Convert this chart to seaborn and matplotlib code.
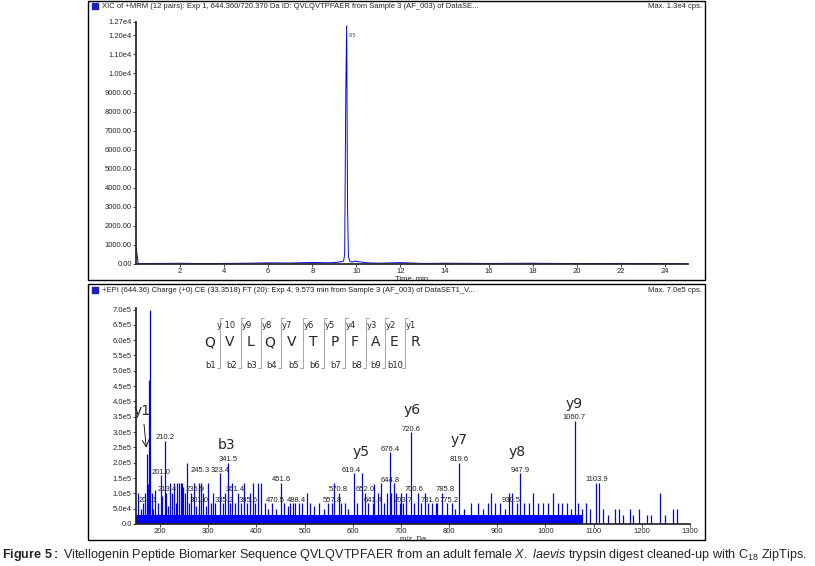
import numpy as np
import pandas as pd
import matplotlib
matplotlib.use("Agg")
import matplotlib.pyplot as plt
import seaborn as sns
from matplotlib.patches import Rectangle

# ---------------- data ----------------
# XIC chromatogram (time in min, intensity in cps)
xic_time = [0.0, 0.05, 0.1, 1.0, 2.0, 3.0, 4.0, 5.0, 6.0, 7.0, 8.0, 8.8, 9.2, 9.42, 9.47, 9.52, 9.56,
            9.6, 9.64, 9.7, 9.8, 9.9, 10.5, 11.0, 12.0, 13.0, 14.0, 16.0, 18.0, 20.0, 22.0, 24.0, 25.0]
xic_int = [900, 500, 20, 30, 40, 20, 30, 40, 60, 50, 80, 60, 100, 150, 500, 9000, 12500, 3000,
           400, 150, 100, 150, 60, 40, 70, 30, 40, 30, 40, 20, 30, 20, 10]

# EPI spectrum peaks (m/z, intensity)
mz = [155, 160, 165, 168, 172, 175, 178, 180, 183, 186, 190, 195, 201.0, 205, 210.2, 213, 216, 220, 225,
      228, 232, 236, 240, 243, 245.3, 248, 252, 256, 260, 265, 270, 274, 280, 285, 290, 295, 300, 305,
      310, 315, 323.4, 330, 335, 341.5, 346, 350, 355, 361.4, 368, 375, 380, 386, 392, 398, 404, 410,
      418, 425, 432, 440, 451.6, 458, 465, 470.5, 476, 481, 488, 495, 505, 512, 520, 530, 540, 548,
      557.8, 562, 570.8, 576, 584, 590, 602, 608, 619.4, 625, 632, 641.4, 644.8, 652, 658, 665, 670,
      676.4, 680, 686, 690, 697, 700.6, 703.7, 710, 720.6, 727, 735, 742, 750, 757, 765, 772, 775.2,
      785.8, 795, 805, 812, 819.6, 830, 845, 860, 870, 880, 887, 895, 905, 915, 925, 930.5, 940, 947.9,
      955, 965, 975, 985, 995, 1005, 1015, 1025, 1035, 1045, 1052, 1060.7, 1068, 1075, 1085, 1092,
      1103.9, 1111, 1120, 1130, 1145, 1152, 1160, 1175, 1182, 1195, 1210, 1220, 1238, 1248, 1265, 1272]
intensity = [1.0e5, 5e4, 7e4, 1.0e5, 2.3e5, 1.3e5, 4.7e5, 7.0e5, 1.0e5, 5e4, 1.1e5, 7e4, 1.6e5, 9e4,
             2.7e5, 1.0e5, 6e4, 1.35e5, 1.0e5, 1.35e5, 7e4, 1.35e5, 1.35e5, 1.35e5, 1.35e5, 1.2e5, 1.0e5,
             2.0e5, 7e4, 1.0e5, 1.35e5, 6e4, 1.35e5, 1.35e5, 1.0e5, 6e4, 1.35e5, 7e4, 1.0e5, 7e4, 1.65e5,
             7e4, 1.0e5, 2.0e5, 7e4, 1.35e5, 7e4, 1.0e5, 7e4, 1.35e5, 7e4, 1.0e5, 1.35e5, 7e4, 1.35e5,
             1.35e5, 7e4, 5e4, 7e4, 5e4, 1.35e5, 7e4, 6e4, 7e4, 7e4, 7e4, 7e4, 7e4, 1.0e5, 7e4, 6e4, 7e4,
             5e4, 7e4, 7e4, 1.35e5, 1.0e5, 7e4, 7e4, 5e4, 1.65e5, 7e4, 1.65e5, 1.0e5, 7e4, 7e4, 1.3e5,
             1.0e5, 1.35e5, 7e4, 1.0e5, 2.35e5, 1.0e5, 1.35e5, 1.0e5, 7e4, 1.0e5, 7e4, 1.0e5, 3.0e5, 7e4,
             1.0e5, 7e4, 1.0e5, 7e4, 7e4, 7e4, 7e4, 1.0e5, 7e4, 7e4, 5e4, 2.0e5, 5e4, 7e4, 7e4, 5e4, 7e4,
             1.0e5, 7e4, 7e4, 5e4, 1.0e5, 1.0e5, 7e4, 1.65e5, 7e4, 7e4, 1.0e5, 7e4, 7e4, 7e4, 1.0e5, 7e4,
             7e4, 7e4, 5e4, 3.35e5, 7e4, 5e4, 7e4, 5e4, 1.35e5, 1.35e5, 5e4, 3e4, 5e4, 5e4, 3e4, 5e4, 3e4,
             5e4, 3e4, 3e4, 1.0e5, 3e4, 5e4, 5e4]
floor_mz = [150, 1075]
floor_level = 3e4

# peak labels: (x, y, text)
peak_labels = [
    (201, 1.58e5, "201.0"), (210, 2.7e5, "210.2"), (284, 1.62e5, "245.3"), (325, 1.62e5, "323.4"),
    (341, 1.98e5, "341.5"), (356, 1.0e5, "361.4"), (451, 1.35e5, "451.6"), (570, 1.0e5, "570.8"),
    (597, 1.62e5, "619.4"), (625, 1.0e5, "652.0"), (677, 1.3e5, "644.8"), (677, 2.33e5, "676.4"),
    (721, 2.98e5, "720.6"), (728, 1.0e5, "700.6"), (791, 1.0e5, "785.8"), (820, 1.98e5, "819.6"),
    (947, 1.62e5, "947.9"), (1059, 3.35e5, "1060.7"), (1107, 1.35e5, "1103.9"),
    (214, 1.0e5, "213.4"), (273, 1.0e5, "235.9"), (176, 6.6e4, "204.1"), (281, 6.6e4, "301.0"),
    (333, 6.6e4, "335.2"), (382, 6.6e4, "395.6"), (439, 6.6e4, "470.5"), (483, 6.6e4, "488.4"),
    (557, 6.6e4, "557.8"), (642, 6.6e4, "641.4"), (704, 6.6e4, "703.7"), (760, 6.6e4, "731.6"),
    (800, 6.6e4, "775.2"), (929, 6.6e4, "930.5")]
ion_labels = [(163, 3.45e5, "y1"), (337, 2.35e5, "b3"), (617, 2.13e5, "y5"), (724, 3.48e5, "y6"),
              (820, 2.5e5, "y7"), (941, 2.13e5, "y8"), (1059, 3.7e5, "y9")]

sequence = list("QVLQVTPFAER")
y_ions = ["y 10", "y9", "y8", "y7", "y6", "y5", "y4", "y3", "y2", "y1"]
b_ions = ["b1", "b2", "b3", "b4", "b5", "b6", "b7", "b8", "b9", "b10"]

top_yticks = [0, 1000, 2000, 3000, 4000, 5000, 6000, 7000, 8000, 9000, 10000, 11000, 12000, 12700]
top_ylabels = ["0.00", "1000.00", "2000.00", "3000.00", "4000.00", "5000.00", "6000.00", "7000.00",
               "8000.00", "9000.00", "1.00e4", "1.10e4", "1.20e4", "1.27e4"]
bot_yticks = [0, 5e4, 1e5, 1.5e5, 2e5, 2.5e5, 3e5, 3.5e5, 4e5, 4.5e5, 5e5, 5.5e5, 6e5, 6.5e5, 7e5]
bot_ylabels = ["0.0", "5.0e4", "1.0e5", "1.5e5", "2.0e5", "2.5e5", "3.0e5", "3.5e5", "4.0e5",
               "4.5e5", "5.0e5", "5.5e5", "6.0e5", "6.5e5", "7.0e5"]

# ---------------- figure ----------------
sns.set_theme(style="ticks", rc={"font.family": "Liberation Sans",
                                 "mathtext.fontset": "custom",
                                 "mathtext.rm": "Liberation Sans",
                                 "mathtext.it": "Liberation Sans:italic",
                                 "mathtext.bf": "Liberation Sans:bold"})
W, H = 815, 566
fig = plt.figure(figsize=(W / 100, H / 100), dpi=100)
BLUE = "#0000ff"

def fx(px):
    return px / W

def fy(py):
    return 1 - py / H

# panel frames
for top, bot in [(1, 280), (284, 540)]:
    fig.patches.append(Rectangle((fx(88), fy(bot)), fx(705 - 88), fy(top) - fy(bot),
                                 transform=fig.transFigure, fill=False, ec="black", lw=1.0))

fig.patches.append(Rectangle((fx(92), fy(9)), fx(6), 6 / H, transform=fig.transFigure, color="#2020c0"))
fig.text(fx(102), fy(6), "XIC of +MRM (12 pairs): Exp 1, 644.360/720.370 Da ID: QVLQVTPFAER from Sample 3 (AF_003) of DataSE...",
         fontsize=5.5, va="center", color="#222222")
fig.text(fx(702), fy(6), "Max. 1.3e4 cps.", fontsize=5.5, va="center", ha="right", color="#222222")
fig.patches.append(Rectangle((fx(92), fy(293)), fx(6), 6 / H, transform=fig.transFigure, color="#2020c0"))
fig.text(fx(102), fy(290), "+EPI (644.36) Charge (+0) CE (33.3518) FT (20): Exp 4, 9.573 min from Sample 3 (AF_003) of DataSET1_V...",
         fontsize=5.5, va="center", color="#222222")
fig.text(fx(702), fy(290), "Max. 7.0e5 cps.", fontsize=5.5, va="center", ha="right", color="#222222")

# ---- top: chromatogram ----
ax1 = fig.add_axes([fx(136), fy(264), fx(688 - 136), fy(22) - fy(264)])
df_xic = pd.DataFrame({"time": xic_time, "int": xic_int})
sns.lineplot(data=df_xic, x="time", y="int", ax=ax1, color=BLUE, lw=0.7)
ax1.set_xlim(0, 25.05)
ax1.set_ylim(0, 12700)
ax1.set_xticks(range(2, 25, 2))
ax1.set_yticks(top_yticks)
ax1.set_yticklabels(top_ylabels)
ax1.set_xlabel("Time, min", fontsize=5.5, labelpad=0)
ax1.set_ylabel("")
ax1.text(9.65, 11900, "9.5", fontsize=4, color="#444444")
ax1.tick_params(labelsize=5.5, length=2, width=0.6, pad=1)
sns.despine(ax=ax1)

# ---- bottom: spectrum ----
ax2 = fig.add_axes([fx(136), fy(524), fx(690 - 136), fy(308) - fy(524)])
ax2.fill_between(floor_mz, 0, floor_level, color=BLUE, lw=0)
ax2.vlines(mz, 0, intensity, color=BLUE, lw=0.9)
ax2.set_xlim(150, 1300)
ax2.set_ylim(0, 7.05e5)
ax2.set_xticks(range(200, 1301, 100))
ax2.set_yticks(bot_yticks)
ax2.set_yticklabels(bot_ylabels)
ax2.set_xlabel("m/z, Da", fontsize=5.5, labelpad=0)
ax2.tick_params(labelsize=5.5, length=2, width=0.6, pad=1)
sns.despine(ax=ax2)
for x, y, t in peak_labels:
    ax2.text(x, y, t, fontsize=5.5, ha="center", va="bottom", color="#222222")
for x, y, t in ion_labels:
    ax2.text(x, y, t, fontsize=10, ha="center", va="bottom", family="Liberation Sans Narrow")
ax2.annotate("", xy=(172, 2.4e5), xytext=(166, 3.35e5),
             arrowprops=dict(arrowstyle="->", lw=0.6, color="black"))

# sequence diagram
letter_x = [210, 230, 251, 270, 292, 313, 335, 355, 376, 394, 415]
for lx, aa in zip(letter_x, sequence):
    fig.text(fx(lx), fy(342), aa, fontsize=10, ha="center", va="center", family="Liberation Sans Narrow")
for i in range(10):
    cx = (letter_x[i] + letter_x[i + 1]) / 2
    fig.lines.append(plt.Line2D([fx(cx), fx(cx)], [fy(318), fy(368)], transform=fig.transFigure,
                                color="#999999", lw=0.6))
    fig.lines.append(plt.Line2D([fx(cx), fx(cx + 3)], [fy(318), fy(318)], transform=fig.transFigure,
                                color="#999999", lw=0.6))
    fig.lines.append(plt.Line2D([fx(cx - 3), fx(cx)], [fy(368), fy(368)], transform=fig.transFigure,
                                color="#999999", lw=0.6))
    fig.text(fx(cx + 6), fy(325), y_ions[i], fontsize=6, ha="center", va="center",
             family="Liberation Sans Narrow")
    fig.text(fx(cx - 9), fy(366), b_ions[i], fontsize=6, ha="center", va="center",
             family="Liberation Sans Narrow")

# caption
fig.text(fx(2), fy(555),
         r"$\bf{Figure\ 5:}$ Vitellogenin Peptide Biomarker Sequence QVLQVTPFAER from an adult female "
         r"$\it{X.\ laevis}$ trypsin digest cleaned-up with C$_{18}$ ZipTips.",
         fontsize=9.1, va="center")

fig.savefig("out.png", dpi=100)
